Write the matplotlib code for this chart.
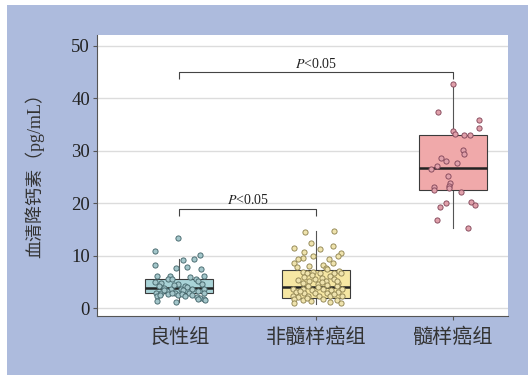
import matplotlib
matplotlib.use("Agg")
import matplotlib.pyplot as plt
from matplotlib.patches import Rectangle

plt.rcParams["mathtext.fontset"] = "stix"

# Groups
groups = ["良性组", "非髓样癌组", "髓样癌组"]

# Box statistics per group (pg/mL)
q1 = [2.8, 2.0, 22.4]
med = [3.9, 3.95, 26.7]
q3 = [5.5, 7.2, 32.9]
whislo = [1.1, 0.8, 15.2]
whishi = [9.4, 14.6, 42.6]

# Individual measurements
benign = [13.4, 10.8, 10.2, 9.4, 9.1, 8.3, 7.7, 7.8, 7.5, 6.2, 6.1, 6.0, 6.2, 5.6,
          5.5, 5.5, 5.1, 4.9, 4.7, 4.6, 4.5, 4.2, 3.9, 4.2, 4.0, 3.7, 3.6, 3.7,
          3.7, 3.3, 3.4, 3.3, 2.8, 2.9, 2.9, 2.85, 2.9, 2.4, 2.5, 2.6, 2.5, 2.7,
          2.5, 2.2, 2.0, 1.7, 1.5, 1.8, 1.3, 1.1, 2.8, 2.4, 3.4, 4.4]
benign_jit = [-0.01, -0.18, 0.15, 0.11, 0.03, -0.18, -0.02, 0.06, 0.16, -0.16, -0.07,
              0.08, 0.18, -0.08, -0.05, 0.12, 0.14, -0.18, -0.13, -0.01, 0.17, -0.15,
              -0.11, 0.04, 0.06, -0.06, 0.01, 0.09, 0.18, -0.09, 0.03, 0.14, -0.17,
              -0.13, -0.03, 0.07, 0.18, -0.16, -0.14, -0.08, -0.01, 0.02, 0.09, 0.13,
              0.15, 0.18, 0.19, 0.14, -0.16, -0.02, -0.05, 0.04, -0.11, -0.04]

non_mtc = [14.5, 14.6, 12.4, 11.4, 11.3, 11.8, 10.7, 10.0, 10.5, 10.0, 9.5, 9.3, 9.4,
           8.5, 8.1, 8.3, 8.6, 7.8, 7.7, 7.5, 6.9, 6.6, 6.8, 6.6, 6.7, 7.1, 6.7, 5.9,
           6.1, 5.3, 5.1, 5.5, 5.8, 5.2, 5.5, 4.8, 4.6, 5.0, 4.7, 3.7, 3.6, 3.4, 3.7,
           3.4, 3.7, 3.0, 2.8, 2.8, 2.9, 3.0, 2.4, 2.2, 2.3, 2.4, 2.3, 2.3, 1.7, 1.5,
           1.4, 1.7, 1.5, 1.0, 1.2, 0.9, 2.0, 2.7, 3.3, 4.0, 4.2, 4.3, 4.4, 6.3, 5.2]
non_mtc_jit = [-0.08, 0.13, -0.04, -0.16, 0.03, 0.12, -0.09, -0.02, 0.18, 0.16, -0.10,
               -0.13, 0.09, -0.16, -0.05, 0.05, 0.12, -0.14, 0.07, 0.08, -0.10, -0.07,
               -0.02, 0.03, 0.13, 0.17, 0.18, -0.09, 0.10, -0.13, -0.05, -0.01, 0.04,
               0.07, 0.13, -0.10, 0.01, 0.04, 0.16, -0.17, -0.10, -0.03, 0.05, 0.11,
               0.19, -0.15, -0.09, -0.01, 0.08, 0.16, -0.17, -0.13, -0.06, 0.02, 0.10,
               0.19, -0.16, -0.10, -0.04, 0.05, 0.15, -0.16, 0.10, 0.18, -0.07, 0.13,
               -0.12, 0.01, 0.15, -0.06, 0.08, -0.03, 0.15]

mtc = [42.6, 37.3, 35.9, 34.3, 33.8, 33.2, 33.0, 32.9, 30.2, 29.4, 28.6, 28.1, 27.7,
       27.1, 26.4, 25.2, 23.9, 23.3, 23.1, 22.4, 22.8, 22.1, 20.2, 19.6, 20.0, 19.3,
       16.8, 15.2]
mtc_jit = [0.0, -0.11, 0.19, 0.19, 0.0, 0.015, 0.08, 0.12, 0.07, 0.08, -0.09, -0.05,
           0.03, -0.12, -0.16, -0.04, -0.02, -0.03, -0.14, -0.14, -0.03, 0.06, 0.13,
           0.16, -0.05, -0.10, -0.12, 0.11]

# Significance annotations: (left group, right group, bracket height)
sig_pairs = [(1, 2, 18.9), (1, 3, 44.9)]

yticks = [0, 10, 20, 30, 40, 50]

box_colors = ["#a9d3d7", "#f6e7a3", "#f0a9aa"]
pt_face = ["#a3c6ca", "#efe3ad", "#e0a0aa"]
pt_edge = ["#46686d", "#918552", "#84485a"]
line_col = "#3b3b3b"

fig = plt.figure(figsize=(5.28, 3.75), dpi=100, facecolor="white")
fig.patches.append(Rectangle((7 / 528, 0), 1 - 7 / 528, 1 - 5 / 375,
                             transform=fig.transFigure, facecolor="#adbbdd",
                             edgecolor="none", zorder=-10))

ax = fig.add_axes([97 / 528, 1 - 316 / 375, 411 / 528, 281 / 375])
ax.set_facecolor("white")

positions = [1, 2, 3]
stats = []
for i in range(3):
    stats.append(dict(med=med[i], q1=q1[i], q3=q3[i], whislo=whislo[i],
                      whishi=whishi[i], fliers=[], label=groups[i]))

bp = ax.bxp(stats, positions=positions, widths=0.5, patch_artist=True,
            showcaps=False, showfliers=False,
            boxprops=dict(edgecolor=line_col, linewidth=0.8),
            whiskerprops=dict(color="#555555", linewidth=0.8),
            medianprops=dict(color="#222222", linewidth=1.8))
for patch, c in zip(bp["boxes"], box_colors):
    patch.set_facecolor(c)
    patch.set_zorder(2)
for w in bp["whiskers"]:
    w.set_zorder(1.5)
for m in bp["medians"]:
    m.set_zorder(2.5)

series = [(benign, benign_jit), (non_mtc, non_mtc_jit), (mtc, mtc_jit)]
for i, (vals, jit) in enumerate(series):
    xs = [positions[i] + j for j in jit]
    ax.scatter(xs, vals, s=14, facecolor=pt_face[i], edgecolor=pt_edge[i],
               linewidth=0.65, zorder=3)

# Significance brackets
for a, b, h in sig_pairs:
    tick = 1.3
    ax.plot([a, a, b, b], [h - tick, h, h, h - tick], color="#444444",
            linewidth=0.8, zorder=4, solid_capstyle="butt")
    ax.text((a + b) / 2, h + 0.3, r"$\mathit{P}$<0.05", ha="center", va="bottom",
            fontsize=10, family="Liberation Serif", color="#222222")

ax.set_xlim(0.4, 3.4)
ax.set_ylim(-1.5, 52)
ax.set_yticks(yticks)
ax.set_yticklabels([str(t) for t in yticks], family="Liberation Serif",
                   fontsize=13.5, color="#222222")
ax.set_xticks(positions)
ax.set_xticklabels(groups, family=["Noto Sans CJK SC"], fontsize=14.5,
                   color="#333333")
ax.grid(axis="y", color="#dcdcdc", linewidth=1.0, zorder=0)
ax.set_axisbelow(True)
for s in ["top", "right"]:
    ax.spines[s].set_visible(False)
for s in ["left", "bottom"]:
    ax.spines[s].set_color("#555555")
    ax.spines[s].set_linewidth(0.8)
ax.tick_params(axis="both", length=3, width=0.8, color="#555555", pad=2)
ax.tick_params(axis="x", pad=5)

ax.set_ylabel("血清降钙素（pg/mL）", family=["Liberation Serif", "Noto Sans CJK SC"],
              fontsize=13, color="#333333")
ax.yaxis.set_label_coords(-0.128, 0.515)

fig.savefig("out.png", dpi=100, facecolor=fig.get_facecolor())
